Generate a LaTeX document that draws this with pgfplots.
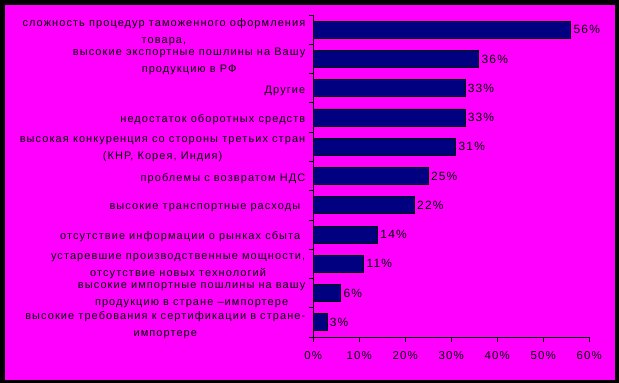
\documentclass[border=0pt]{standalone}
\usepackage{pgfplots}
\pgfplotsset{compat=1.18}
\usepackage{fontspec}
\setmainfont{Liberation Sans}[LetterSpace=10]
\definecolor{bg}{RGB}{255,0,255}
\definecolor{barc}{RGB}{0,0,128}
\begin{document}
\begin{tikzpicture}
\fill[black] (0,0) rectangle (619bp,383bp);
\fill[bg] (5bp,3bp) rectangle (615bp,378bp);
\begin{axis}[
  at={(313.3bp,46bp)}, anchor=south west,
  scale only axis, width=276bp, height=322bp,
  xbar, bar width=17bp,
  xmin=0, xmax=60, ymin=0.5, ymax=11.5,
  axis lines*=left,
  axis line style={black, line width=0.8bp},
  enlargelimits=false, clip=false,
  /pgf/number format/assume math mode=true,
  xtick={0,10,...,60},
  xticklabel={\pgfmathprintnumber{\tick}\%},
  ytick={1,...,11},
  yticklabels={
    {высокие требования к сертификации в стране-\\импортере},
    {высокие импортные пошлины на вашу\\продукцию в стране –импортере},
    {устаревшие производственные мощности,\\отсутствие новых технологий},
    {отсутствие информации о рынках сбыта\hspace{5bp}},
    {высокие транспортные расходы\hspace{5bp}},
    {проблемы с возвратом НДС},
    {высокая конкуренция со стороны третьих стран\\(КНР, Корея, Индия)},
    {недостаток оборотных средств},
    {Другие},
    {высокие экспортные пошлины на Вашу\\продукцию в РФ},
    {сложность процедур таможенного оформления\\товара,}
  },
  major y tick style={draw=none},
  minor ytick={0.5,1.5,...,11.5},
  minor tick style={black, line width=0.8bp},
  major tick style={black, line width=0.8bp},
  tick align=outside, major tick length=4.5bp, minor tick length=4bp,
  yticklabel style={align=center, font=\fontsize{11}{17}\selectfont, yshift=-2.5bp},
  xticklabel style={font=\fontsize{11.5}{12}\selectfont, yshift=-6bp},
  nodes near coords={\pgfmathprintnumber{\pgfplotspointmeta}\%},
  nodes near coords style={font=\fontsize{12}{12}\selectfont, black, xshift=-1bp},
]
\addplot[fill=barc, draw=black, line width=0.8bp] coordinates {
  (3,1) (6,2) (11,3) (14,4) (22,5) (25,6) (31,7) (33,8) (33,9) (36,10) (56,11)
};
\end{axis}
\end{tikzpicture}
\end{document}
